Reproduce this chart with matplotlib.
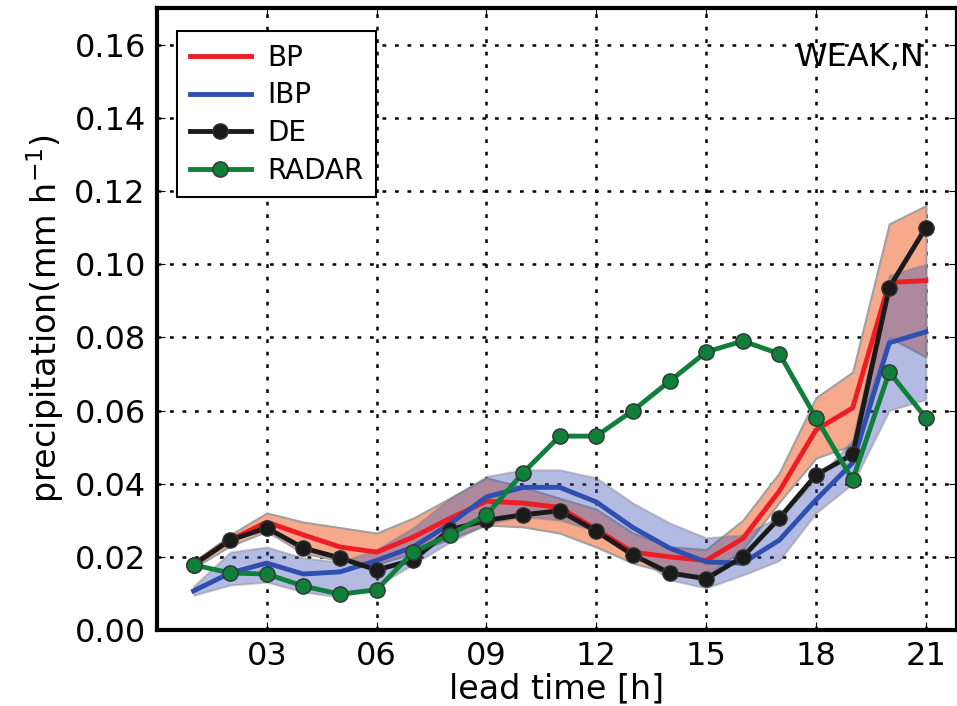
import numpy as np
import matplotlib
matplotlib.use("Agg")
import matplotlib.pyplot as plt

# lead time (h)
hours = np.arange(1, 22)

bp = [0.018, 0.0246, 0.0295, 0.026, 0.0227, 0.0213, 0.0254, 0.0305, 0.0352, 0.0347, 0.0335,
      0.0275, 0.0213, 0.020, 0.019, 0.025, 0.038, 0.0547, 0.0607, 0.095, 0.0955]
bp_hi = [0.0185, 0.026, 0.032, 0.0295, 0.028, 0.0265, 0.0306, 0.036, 0.0416, 0.039, 0.036,
         0.033, 0.0265, 0.0227, 0.022, 0.030, 0.043, 0.0635, 0.0705, 0.111, 0.116]
bp_lo = [0.017, 0.023, 0.027, 0.021, 0.019, 0.018, 0.021, 0.025, 0.0287, 0.0282, 0.0265,
         0.0227, 0.0183, 0.0156, 0.015, 0.022, 0.035, 0.047, 0.0506, 0.080, 0.0747]

ibp = [0.0107, 0.0156, 0.0183, 0.0153, 0.0159, 0.019, 0.0227, 0.029, 0.0364, 0.039, 0.039,
       0.035, 0.028, 0.0224, 0.0186, 0.0183, 0.0246, 0.0356, 0.0457, 0.0785, 0.0815]
ibp_hi = [0.012, 0.0213, 0.0227, 0.0197, 0.0186, 0.022, 0.028, 0.036, 0.042, 0.0438, 0.0438,
          0.0416, 0.0347, 0.0293, 0.0252, 0.026, 0.031, 0.041, 0.052, 0.097, 0.100]
ibp_lo = [0.0095, 0.0123, 0.0131, 0.0104, 0.009, 0.012, 0.018, 0.024, 0.029, 0.031, 0.030,
          0.027, 0.021, 0.0137, 0.0115, 0.015, 0.019, 0.032, 0.040, 0.060, 0.063]

de = [0.0178, 0.0246, 0.0279, 0.0224, 0.0197, 0.0164, 0.0192, 0.0274, 0.030, 0.0315, 0.0326,
      0.027, 0.0205, 0.0156, 0.014, 0.020, 0.0306, 0.0424, 0.048, 0.0936, 0.110]
radar = [0.0178, 0.0156, 0.0153, 0.012, 0.0098, 0.011, 0.0213, 0.026, 0.0315, 0.043, 0.053,
         0.053, 0.060, 0.068, 0.076, 0.079, 0.0755, 0.058, 0.041, 0.0705, 0.058]

xticks = [3, 6, 9, 12, 15, 18, 21]
xticklabels = ["03", "06", "09", "12", "15", "18", "21"]
yticks = np.arange(0, 0.161, 0.02)

fig = plt.figure(figsize=(9.57, 7.06), dpi=100)
ax = fig.add_axes([0.164, 0.1076, 0.836, 0.881])

# orange band underneath, translucent blue band on top -> mauve overlap
ax.fill_between(hours, bp_lo, bp_hi, facecolor="#f6aa8b", alpha=1.0,
                edgecolor="#a0a0a0", linewidth=1.5, zorder=2)
ax.fill_between(hours, ibp_lo, ibp_hi, facecolor="#4355b9", alpha=0.4,
                edgecolor="#808080", linewidth=1.5, zorder=2)

ax.plot(hours, bp, color="#ee1c24", lw=3.5, label="BP", zorder=3)
ax.plot(hours, ibp, color="#2e4fb0", lw=3.5, label="IBP", zorder=3)
ax.plot(hours, de, color="#1a1a1a", lw=3.5, marker="o", ms=11,
        mec="#333333", label="DE", zorder=4)
ax.plot(hours, radar, color="#0f7f3a", lw=3.5, marker="o", ms=11,
        mec="#333333", label="RADAR", zorder=5)

ax.set_xlim(0, 21.85)
ax.set_ylim(0, 0.17)
ax.set_xticks(xticks)
ax.set_xticklabels(xticklabels)
ax.set_yticks(yticks)
ax.set_yticklabels([f"{v:.2f}" for v in yticks])
ax.tick_params(direction="in", top=True, right=True, length=6, labelsize=23, pad=8)
ax.grid(True, color="black", linestyle=(0, (1.5, 3.5)), linewidth=1.8)
for s in ax.spines.values():
    s.set_linewidth(3)

ax.set_xlabel("lead time [h]", fontsize=24, labelpad=0)
ax.set_ylabel("precipitation(mm h$^{-1}$)", fontsize=24, labelpad=6)
ax.text(0.96, 0.92, "WEAK,N", transform=ax.transAxes, ha="right", va="center",
        fontsize=23)

leg = ax.legend(loc="upper left", fontsize=20, handlelength=2.2, fancybox=False,
                framealpha=1, edgecolor="black", borderpad=0.45, labelspacing=0.35,
                handletextpad=0.6, bbox_to_anchor=(0.008, 0.985))
leg.get_frame().set_linewidth(1.5)

fig.savefig("out.png", dpi=100)
